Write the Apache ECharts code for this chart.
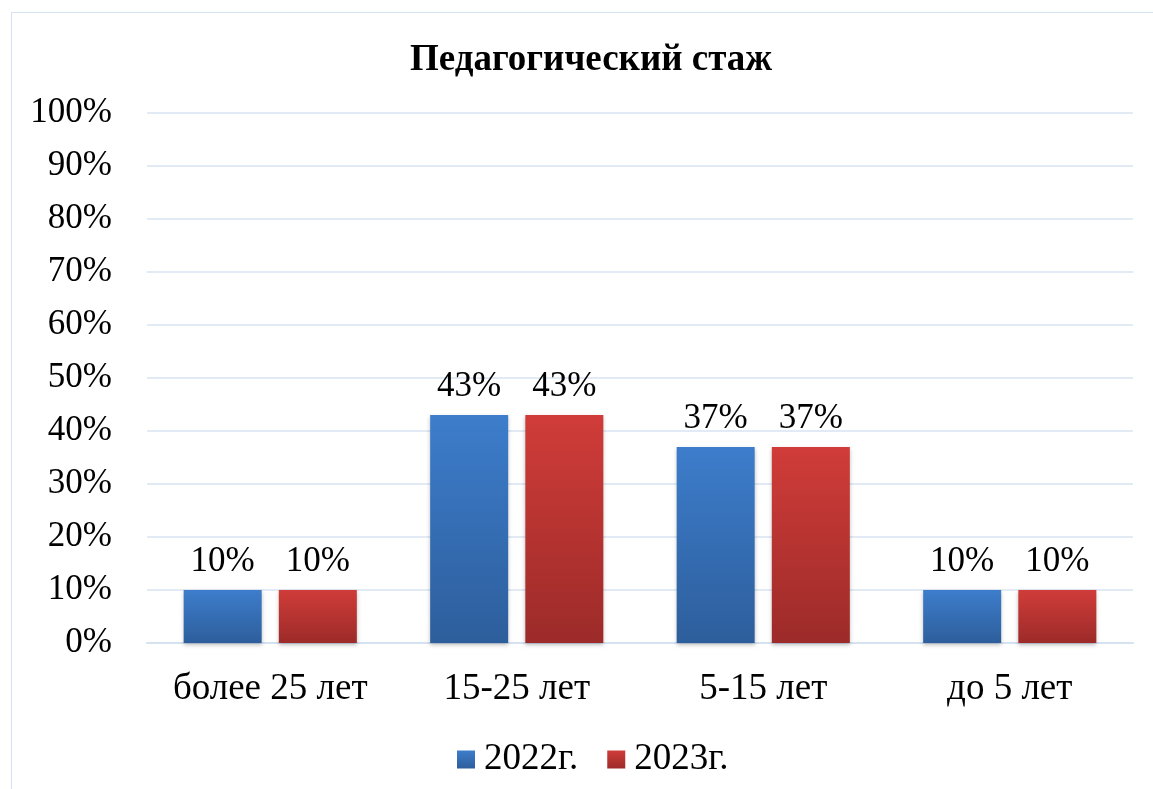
<!DOCTYPE html>
<html>
<head>
<meta charset="utf-8">
<script src="https://cdn.jsdelivr.net/npm/echarts@6/dist/echarts.min.js"></script>
<style>
html, body { margin: 0; padding: 0; background: #fff; }
#frame { position: absolute; left: 11px; top: 12px; width: 1160px; height: 800px; border-left: 1px solid #d5e2f1; border-top: 1px solid #d5e2f1; }
#main { position: absolute; left: 0; top: 0; width: 1153px; height: 789px; }
</style>
</head>
<body>
<div id="frame"></div>
<div id="main"></div>
<script>
var categories = ['более 25 лет', '15-25 лет', '5-15 лет', 'до 5 лет'];
var data2022 = [10, 43, 37, 10];
var data2023 = [10, 43, 37, 10];
var seriesNames = ['2022г.', '2023г.'];

var chart = echarts.init(document.getElementById('main'));
var font = '"Liberation Serif", "Times New Roman", serif';

function grad(top, bottom) {
	return new echarts.graphic.LinearGradient(0, 0, 0, 1, [
		{ offset: 0, color: top },
		{ offset: 1, color: bottom }
	]);
}

var blue = grad('#3d7dcb', '#2d5e9c');
var red = grad('#d03c39', '#9c2b29');

var option = {
	backgroundColor: 'transparent',
	animation: false,
	title: {
		text: 'Педагогический стаж',
		left: 405,
		top: 37,
		textStyle: {
			fontFamily: font,
			fontWeight: 'bold',
			fontSize: 37,
			color: '#000'
		}
	},
	legend: {
		data: seriesNames,
		bottom: 6,
		left: 452,
		icon: 'rect',
		itemWidth: 18,
		itemHeight: 18,
		itemGap: 29,
		textStyle: {
			fontFamily: font,
			fontSize: 37,
			color: '#000',
			padding: [0, 0, 0, 4]
		}
	},
	grid: {
		left: 147,
		right: 20,
		top: 113,
		bottom: 146,
		containLabel: false
	},
	xAxis: {
		type: 'category',
		data: categories,
		axisLine: { lineStyle: { color: '#d5e2f1', width: 2 } },
		axisTick: { show: false },
		axisLabel: {
			interval: 0,
			fontFamily: font,
			fontSize: 37,
			color: '#000',
			margin: 28
		}
	},
	yAxis: {
		type: 'value',
		min: 0,
		max: 100,
		interval: 10,
		axisLine: { show: false },
		axisTick: { show: false },
		axisLabel: {
			formatter: '{value}%',
			fontFamily: font,
			fontSize: 35,
			color: '#000',
			margin: 35
		},
		splitLine: {
			lineStyle: { color: '#d9e4f2', width: 1.5 }
		}
	},
	series: [
		{
			name: seriesNames[0],
			type: 'bar',
			data: data2022,
			barWidth: 78,
			barGap: '22%',
			itemStyle: {
				color: blue,
				shadowColor: 'rgba(0,0,0,0.25)',
				shadowBlur: 4,
				shadowOffsetY: 2
			},
			label: {
				show: true,
				position: 'top',
				distance: 11,
				formatter: '{c}%',
				fontFamily: font,
				fontSize: 35,
				color: '#000'
			}
		},
		{
			name: seriesNames[1],
			type: 'bar',
			data: data2023,
			barWidth: 78,
			itemStyle: {
				color: red,
				shadowColor: 'rgba(0,0,0,0.25)',
				shadowBlur: 4,
				shadowOffsetY: 2
			},
			label: {
				show: true,
				position: 'top',
				distance: 11,
				formatter: '{c}%',
				fontFamily: font,
				fontSize: 35,
				color: '#000'
			}
		}
	]
};

chart.setOption(option);
</script>
</body>
</html>
